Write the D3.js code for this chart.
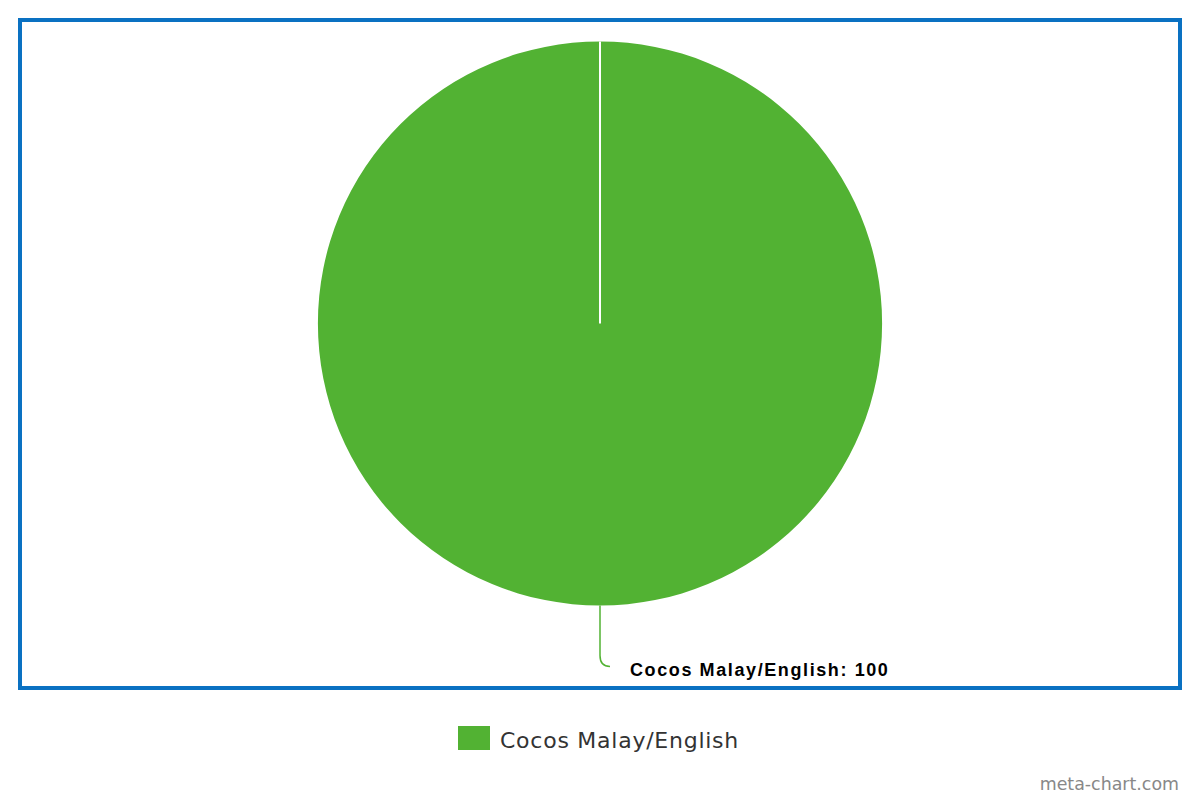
<!DOCTYPE html>
<html>
<head>
<meta charset="utf-8">
<script src="https://cdn.jsdelivr.net/npm/d3@7"></script>
<style>
  body { margin: 0; background: #fff; }
  svg { display: block; }
</style>
</head>
<body>
<div id="chart"></div>
<script>
const categories = ["Cocos Malay/English"];
const values = [100];
const colors = ["#52b233"];

const W = 1200, H = 800;
const cx = 600, cy = 323.5, radius = 282;

const svg = d3.select("#chart").append("svg")
    .attr("width", W)
    .attr("height", H);

// frame round the plot
svg.append("rect")
    .attr("x", 20).attr("y", 20)
    .attr("width", 1160).attr("height", 668)
    .attr("fill", "none")
    .attr("stroke", "#0a71c2")
    .attr("stroke-width", 4);

const data = categories.map(function (c, i) { return { name: c, value: values[i], color: colors[i] }; });

const pie = d3.pie().sort(null).value(function (d) { return d.value; });
const arc = d3.arc().innerRadius(0).outerRadius(radius);
const arcs = pie(data);

const g = svg.append("g").attr("transform", `translate(${cx},${cy})`);

g.selectAll("path.slice")
    .data(arcs)
    .enter().append("path")
    .attr("class", "slice")
    .attr("d", arc)
    .attr("fill", function (d) { return d.data.color; });

// slice edges (white radial lines)
g.selectAll("line.edge")
    .data(arcs)
    .enter().append("line")
    .attr("class", "edge")
    .attr("x1", 0).attr("y1", 0)
    .attr("x2", function (d) { return Math.sin(d.startAngle) * radius; })
    .attr("y2", function (d) { return -Math.cos(d.startAngle) * radius; })
    .attr("stroke", "#fff")
    .attr("stroke-width", 2);

// connector + label
arcs.forEach(function (d) {
    const mid = (d.startAngle + d.endAngle) / 2;
    const px = Math.sin(mid) * radius, py = -Math.cos(mid) * radius;
    g.append("path")
        .attr("d", `M${px},${py} L${px},${py + 50} Q${px},${py + 61} ${px + 10},${py + 61}`)
        .attr("fill", "none")
        .attr("stroke", d.data.color)
        .attr("stroke-width", 1.5);
    g.append("text")
        .attr("x", px + 30)
        .attr("y", py + 70)
        .attr("font-family", "Liberation Sans, Arial, sans-serif")
        .attr("font-weight", "bold")
        .attr("font-size", 18)
        .attr("letter-spacing", 1.6)
        .attr("fill", "#000")
        .text(`${d.data.name}: ${d.data.value}`);
});

// legend
const legend = svg.append("g").attr("transform", "translate(458,726)");
legend.selectAll("rect")
    .data(data)
    .enter().append("rect")
    .attr("width", 32).attr("height", 24)
    .attr("fill", function (d) { return d.color; });
legend.selectAll("text")
    .data(data)
    .enter().append("text")
    .attr("x", 42).attr("y", 22)
    .attr("font-family", "DejaVu Sans, sans-serif")
    .attr("font-size", 22)
    .attr("letter-spacing", 0.75)
    .attr("fill", "#333")
    .text(function (d) { return d.name; });

svg.append("text")
    .attr("x", 1179).attr("y", 790)
    .attr("text-anchor", "end")
    .attr("font-family", "DejaVu Sans, sans-serif")
    .attr("font-size", 17.4)
    .attr("fill", "#888")
    .text("meta-chart.com");
</script>
</body>
</html>
